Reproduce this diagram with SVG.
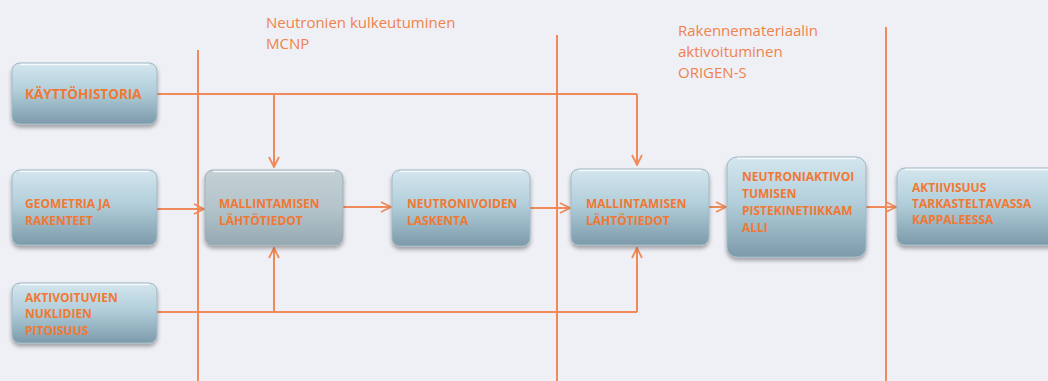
<svg xmlns="http://www.w3.org/2000/svg" width="1048" height="381" viewBox="0 0 1048 381">
<defs>
<linearGradient id="gb" x1="0" y1="0" x2="0" y2="1">
<stop offset="0" stop-color="#d3e6ee"/>
<stop offset="0.45" stop-color="#b3cfdb"/>
<stop offset="1" stop-color="#7c9aaa"/>
</linearGradient>
<linearGradient id="gg" x1="0" y1="0" x2="0" y2="1">
<stop offset="0" stop-color="#c3d1d6"/>
<stop offset="0.5" stop-color="#b4c4ca"/>
<stop offset="1" stop-color="#95a9b2"/>
</linearGradient>
<filter id="sh" x="-10%" y="-10%" width="120%" height="130%">
<feGaussianBlur in="SourceAlpha" stdDeviation="2"/>
<feOffset dx="0" dy="3"/>
<feComponentTransfer><feFuncA type="linear" slope="0.35"/></feComponentTransfer>
<feMerge><feMergeNode/><feMergeNode in="SourceGraphic"/></feMerge>
</filter>
<marker id="ah" viewBox="0 0 12 12" refX="11" refY="6" markerWidth="12" markerHeight="12" markerUnits="userSpaceOnUse" orient="auto">
<path d="M1,1 L11,6 L1,11" fill="none" stroke="#f08a5a" stroke-width="1.8"/>
</marker>
</defs>
<style>
.bx{fill:url(#gb);stroke:#9fb8c4;stroke-width:1;filter:url(#sh)}
.bg{fill:url(#gg);stroke:#9fb0b8;stroke-width:1;filter:url(#sh)}
.hl{fill:none;stroke:#ffffff;stroke-opacity:0.8;stroke-width:1.5}
.t{font-family:"Open Sans","Liberation Sans",sans-serif;font-weight:bold;font-size:12px;fill:#f07833}
.t.big{font-size:13.5px}
.h{font-family:"Open Sans","Liberation Sans",sans-serif;font-size:15px;fill:#f0824a}
.ln{fill:none;stroke:#f08a5a;stroke-width:2}
.ar{fill:none;stroke:#f08a5a;stroke-width:2;marker-end:url(#ah)}
</style>
<rect width="1048" height="381" fill="#eff0f6"/>

<g id="labels">
<text class="h" x="266" y="28">Neutronien kulkeutuminen</text>
<text class="h" x="266" y="49">MCNP</text>
<text class="h" x="678" y="36">Rakennemateriaalin</text>
<text class="h" x="678" y="57">aktivoituminen</text>
<text class="h" x="678" y="78">ORIGEN-S</text>
</g>

<g id="connectors">
<line class="ln" x1="198" y1="50" x2="198" y2="381"/>
<line class="ln" x1="557" y1="35" x2="557" y2="381"/>
<line class="ln" x1="886" y1="27" x2="886" y2="381"/>
<polyline class="ln" points="157,94 637,94"/>
<line class="ar" x1="274" y1="94" x2="274" y2="167"/>
<line class="ar" x1="637" y1="94" x2="637" y2="165"/>
<polyline class="ln" points="157,312 637,312"/>
<line class="ar" x1="274" y1="312" x2="274" y2="248"/>
<line class="ar" x1="637" y1="312" x2="637" y2="248"/>
<line class="ar" x1="157" y1="209" x2="204" y2="209"/>
<line class="ar" x1="343" y1="207" x2="391" y2="207"/>
<line class="ar" x1="530" y1="208" x2="570" y2="208"/>
<line class="ar" x1="709" y1="207" x2="726" y2="207"/>
<line class="ar" x1="866" y1="207" x2="896" y2="207"/>
</g>

<g id="n1">
<rect class="bx" x="12" y="63" width="145" height="61" rx="8"/>
<path class="hl" d="M20,64.5 H149"/>
<text class="t big" x="25" y="99">KÄYTTÖHISTORIA</text>
</g>
<g id="n2">
<rect class="bx" x="12" y="170" width="145" height="75" rx="8"/>
<path class="hl" d="M20,171.5 H149"/>
<text class="t" x="25" y="208">GEOMETRIA JA</text>
<text class="t" x="25" y="225">RAKENTEET</text>
</g>
<g id="n3">
<rect class="bx" x="12" y="283" width="145" height="60" rx="8"/>
<path class="hl" d="M20,284.5 H149"/>
<text class="t" x="25" y="302">AKTIVOITUVIEN</text>
<text class="t" x="25" y="318">NUKLIDIEN</text>
<text class="t" x="25" y="335">PITOISUUS</text>
</g>
<g id="n4">
<rect class="bg" x="205" y="170" width="138" height="75" rx="8"/>
<path class="hl" d="M213,171.5 H335"/>
<text class="t" x="219" y="208">MALLINTAMISEN</text>
<text class="t" x="219" y="225">LÄHTÖTIEDOT</text>
</g>
<g id="n5">
<rect class="bx" x="392" y="170" width="138" height="76" rx="8"/>
<path class="hl" d="M400,171.5 H522"/>
<text class="t" x="407" y="208">NEUTRONIVOIDEN</text>
<text class="t" x="407" y="225">LASKENTA</text>
</g>
<g id="n6">
<rect class="bx" x="571" y="169" width="138" height="76" rx="8"/>
<path class="hl" d="M579,170.5 H701"/>
<text class="t" x="586" y="208">MALLINTAMISEN</text>
<text class="t" x="586" y="225">LÄHTÖTIEDOT</text>
</g>
<g id="n7">
<rect class="bx" x="727" y="157" width="139" height="100" rx="10"/>
<path class="hl" d="M737,158.5 H856"/>
<text class="t" x="742" y="181">NEUTRONIAKTIVOI</text>
<text class="t" x="742" y="198">TUMISEN</text>
<text class="t" x="742" y="215">PISTEKINETIIKKAM</text>
<text class="t" x="742" y="232">ALLI</text>
</g>
<g id="n8">
<rect class="bx" x="897" y="168" width="160" height="77" rx="8"/>
<path class="hl" d="M905,169.5 H1048"/>
<text class="t" x="912" y="192">AKTIIVISUUS</text>
<text class="t" x="912" y="208">TARKASTELTAVASSA</text>
<text class="t" x="912" y="224">KAPPALEESSA</text>
</g>
</svg>
